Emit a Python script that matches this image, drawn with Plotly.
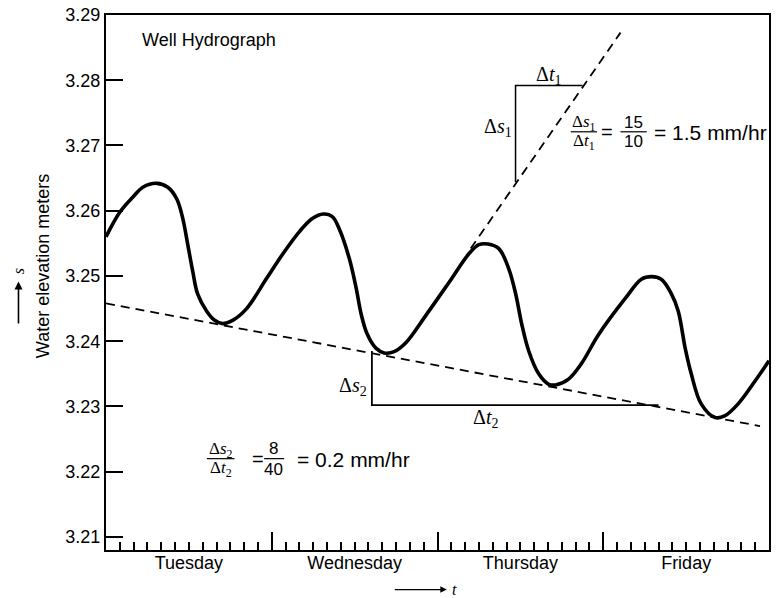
import plotly.graph_objects as go

# ---------------- data (hours since Tuesday 00:00, water elevation in m) ----------------
hours = [0, 2.02, 3.90, 5.34, 7.36, 8.95, 10.25, 11.12, 11.84, 12.56, 13.28, 14.58,
         15.73, 16.89, 18.33, 20.36, 23.24, 25.55, 28.01, 29.88, 31.47, 32.77, 33.78,
         35.22, 36.23, 36.96, 37.82, 39.12, 40.28, 41.72, 43.45, 46.34, 49.66, 52.55,
         53.99, 55.29, 56.88, 58.32, 59.33, 60.20, 61.21, 62.65, 64.10, 65.11, 66.98,
         68.86, 71.31, 75.21, 77.52, 78.96, 80.40, 81.85, 82.86, 83.87, 84.74, 86.18,
         88.20, 89.65, 91.53, 93.98, 96.0]
elevation = [3.2560, 3.2598, 3.2621, 3.2636, 3.2642, 3.2636, 3.2618, 3.2588, 3.2548,
             3.2507, 3.2472, 3.2446, 3.2432, 3.2427, 3.2432, 3.2450, 3.2496, 3.2533,
             3.2568, 3.2588, 3.2595, 3.2591, 3.2572, 3.2527, 3.2481, 3.2441, 3.2411,
             3.2389, 3.2382, 3.2384, 3.2398, 3.2440, 3.2490, 3.2534, 3.2548, 3.2549,
             3.2542, 3.2511, 3.2472, 3.2426, 3.2385, 3.2350, 3.2334, 3.2333, 3.2342,
             3.2366, 3.2410, 3.2466, 3.2495, 3.2499, 3.2495, 3.2473, 3.2446, 3.2389,
             3.2350, 3.2304, 3.2283, 3.2286, 3.2304, 3.2339, 3.2370]

trend_hours = [0, 94.7]
trend_elev = [3.2458, 3.2270]
tangent_hours = [52.8, 74.5]
tangent_elev = [3.2542, 3.2873]
tri1_hours = [59.3, 59.3, 69.0]
tri1_elev = [3.2644, 3.2792, 3.2792]
tri2_hours = [38.5, 38.5, 80.0]
tri2_elev = [3.2385, 3.2302, 3.2302]

day_labels = ["Tuesday", "Wednesday", "Thursday", "Friday"]
day_centers = [12, 36, 60, 84]
day_bounds = [24, 48, 72]
minor_hours = list(range(2, 96, 2))
y_ticks = [3.21, 3.22, 3.23, 3.24, 3.25, 3.26, 3.27, 3.28, 3.29]
y_ticktext = ["3.21", "3.22", "3.23", "3.24", "3.25", "3.26", "3.27", "3.28", "3.29"]

SANS = "Liberation Sans, Arial, sans-serif"
SERIF = "Liberation Serif, Times New Roman, serif"

fig = go.Figure()
fig.add_trace(go.Scatter(x=hours, y=elevation, mode="lines",
                         line=dict(color="black", width=3.6, shape="spline", smoothing=1.0),
                         hoverinfo="skip"))
fig.add_trace(go.Scatter(x=trend_hours, y=trend_elev, mode="lines",
                         line=dict(color="black", width=1.8, dash="9px,6px")))
fig.add_trace(go.Scatter(x=tangent_hours, y=tangent_elev, mode="lines",
                         line=dict(color="black", width=1.8, dash="9px,6px")))
fig.add_trace(go.Scatter(x=tri1_hours, y=tri1_elev, mode="lines",
                         line=dict(color="black", width=1.5)))
fig.add_trace(go.Scatter(x=tri2_hours, y=tri2_elev, mode="lines",
                         line=dict(color="black", width=1.8)))
# invisible trace to carry the day-label axis
fig.add_trace(go.Scatter(x=day_centers, y=[3.25] * 4, xaxis="x2", mode="markers",
                         marker=dict(opacity=0), hoverinfo="skip"))

ann = []
def txt(x, y, t, size=17, fam=SANS, xanchor="center", xref="x", yref="y", angle=0):
    ann.append(dict(x=x, y=y, xref=xref, yref=yref, text=t, showarrow=False,
                    xanchor=xanchor, yanchor="middle", textangle=angle,
                    font=dict(family=fam, size=size, color="black")))

txt(4.9, 3.2862, "Well Hydrograph", size=18, xanchor="left")
txt(64.1, 3.2807, "Δ<i>t</i><sub>1</sub>", size=20, fam=SERIF)
txt(56.7, 3.2728, "Δ<i>s</i><sub>1</sub>", size=20, fam=SERIF)
txt(35.7, 3.2331, "Δ<i>s</i><sub>2</sub>", size=20, fam=SERIF)
txt(55.0, 3.2281, "Δ<i>t</i><sub>2</sub>", size=20, fam=SERIF)

# formula 1
txt(69.2, 3.2735, "Δ<i>s</i><sub>1</sub>", size=17, fam=SERIF)
txt(69.2, 3.2705, "Δ<i>t</i><sub>1</sub>", size=17, fam=SERIF)
txt(72.5, 3.2720, "=", size=20)
txt(76.4, 3.2736, "15", size=17)
txt(76.4, 3.2706, "10", size=17)
txt(79.0, 3.2720, "= 1.5 mm/hr", size=21, xanchor="left")

# formula 2
txt(16.6, 3.2234, "Δ<i>s</i><sub>2</sub>", size=17, fam=SERIF)
txt(16.6, 3.2204, "Δ<i>t</i><sub>2</sub>", size=17, fam=SERIF)
txt(22.0, 3.2219, "=", size=20)
txt(24.3, 3.2235, "8", size=17)
txt(24.3, 3.2204, "40", size=17)
txt(27.4, 3.2219, "= 0.2 mm/hr", size=21, xanchor="left")

# axis titles with arrows
txt(-0.0947, 0.531, "Water elevation meters", size=18, xref="paper", yref="paper", angle=-90)
txt(-0.132, 0.522, "<i>s</i>", size=16, fam=SERIF, xref="paper", yref="paper", angle=-90)
txt(0.526, -0.074, "<i>t</i>", size=16, fam=SERIF, xref="paper", yref="paper")
ann.append(dict(x=-0.132, y=0.502, xref="paper", yref="paper", text=" ", showarrow=True,
                ax=0, ay=52, arrowhead=2, arrowsize=1, arrowwidth=1.6, arrowcolor="black"))
ann.append(dict(x=0.514, y=-0.074, xref="paper", yref="paper", text=" ", showarrow=True,
                ax=-55, ay=0, arrowhead=2, arrowsize=1, arrowwidth=1.3, arrowcolor="black"))

shapes = []
for x0, x1, y in [(67.3, 71.1, 3.2721), (74.5, 78.3, 3.2721), (14.6, 18.6, 3.2220), (22.9, 25.8, 3.2220)]:
    shapes.append(dict(type="line", xref="x", yref="y", x0=x0, x1=x1, y0=y, y1=y,
                       line=dict(color="black", width=1.2)))

fig.update_layout(
    width=776, height=598,
    margin=dict(l=106, r=5, t=12, b=48),
    paper_bgcolor="white", plot_bgcolor="white",
    showlegend=False, hovermode=False,
    annotations=ann, shapes=shapes,
    xaxis=dict(range=[0, 96], tickvals=day_bounds, ticks="inside", ticklen=18,
               tickwidth=1.5, tickcolor="black", showticklabels=False,
               minor=dict(tickvals=minor_hours, ticks="inside", ticklen=8,
                          tickwidth=1.5, tickcolor="black"),
               showline=True, linewidth=2, linecolor="black", mirror=True,
               showgrid=False, zeroline=False),
    xaxis2=dict(range=[0, 96], overlaying="x", matches="x", anchor="y", side="bottom",
                tickvals=day_centers, ticktext=day_labels, ticks="",
                showline=False, showgrid=False, zeroline=False,
                tickfont=dict(family=SANS, size=18, color="black")),
    yaxis=dict(range=[3.208, 3.29], tickvals=y_ticks, ticktext=y_ticktext,
               ticks="inside", ticklen=17, tickwidth=1.5, tickcolor="black",
               showline=True, linewidth=2, linecolor="black", mirror=True,
               showgrid=False, zeroline=False,
               tickfont=dict(family=SANS, size=18, color="black")),
)

fig.write_html("out.html", config={"displayModeBar": False},
               post_script="document.body.style.margin='0';")
